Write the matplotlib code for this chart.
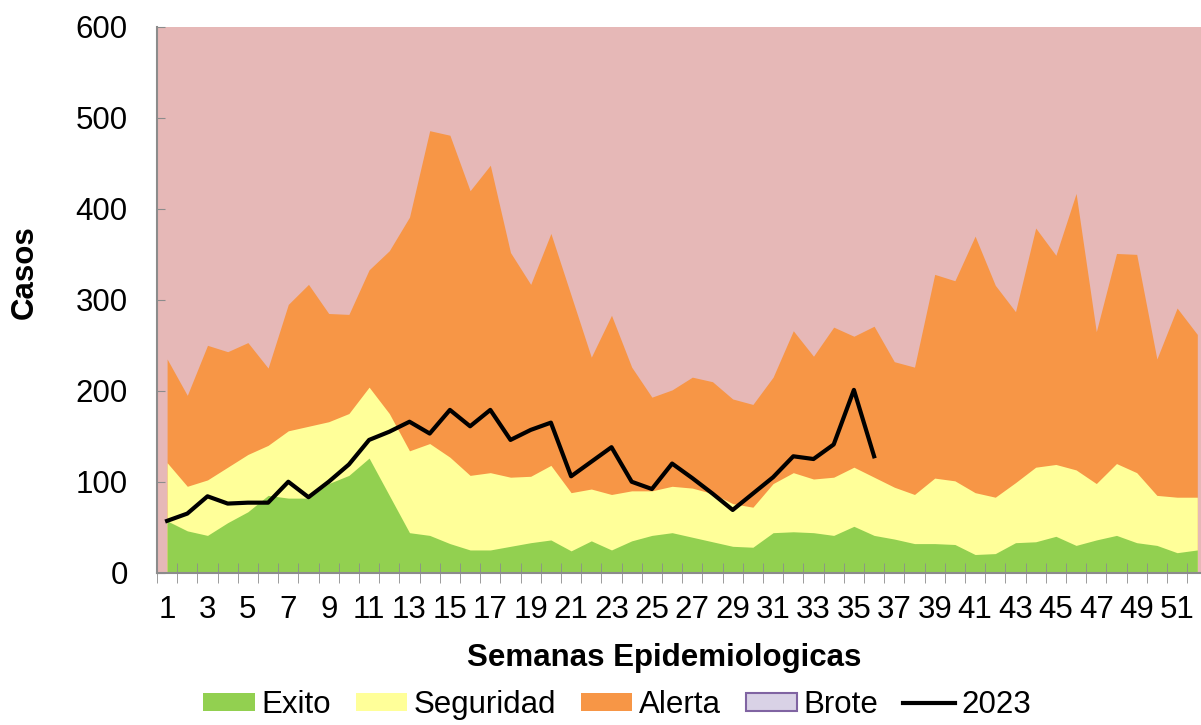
import matplotlib
matplotlib.use("Agg")
import matplotlib.pyplot as plt
from matplotlib.patches import Patch
from matplotlib.lines import Line2D

plt.rcParams['font.family'] = ['Liberation Sans', 'DejaVu Sans']

# semanas epidemiologicas
semanas = list(range(1, 53))

# limites superiores de cada zona (canal endemico)
exito = [57, 46, 41, 55, 67, 85, 82, 82, 98, 107,
         126, 85, 44, 41, 32, 25, 25, 29, 33, 36,
         24, 35, 25, 35, 41, 44, 39, 34, 29, 28,
         44, 45, 44, 41, 51, 41, 37, 32, 32, 31,
         20, 21, 33, 34, 40, 30, 36, 41, 33, 30,
         22, 25]
seguridad = [121, 95, 102, 116, 130, 140, 156, 161, 166, 175,
             204, 175, 134, 142, 127, 107, 110, 105, 106, 118,
             88, 92, 86, 90, 90, 95, 93, 87, 76, 72,
             98, 110, 103, 105, 116, 105, 94, 86, 104, 101,
             88, 83, 99, 116, 119, 113, 98, 120, 110, 85,
             83, 83]
alerta = [235, 195, 250, 243, 253, 225, 295, 317, 285, 284,
          333, 354, 391, 486, 481, 420, 448, 352, 317, 373,
          305, 237, 283, 226, 193, 201, 215, 210, 191, 185,
          215, 266, 238, 270, 260, 271, 232, 226, 328, 321,
          370, 316, 287, 379, 349, 417, 265, 351, 350, 235,
          291, 262]

# casos 2023 (hasta semana 36)
casos_2023 = [57, 65, 84, 76, 77, 77, 100, 83, 100, 119,
              146, 155, 166, 153, 179, 161, 179, 146, 157, 165,
              106, 122, 138, 100, 92, 120, 104, 87, 69, 87,
              105, 128, 125, 141, 201, 128]

verde = '#92D050'
amarillo = '#FFFF99'
naranja = '#F79646'
rosa = '#E6B8B7'
gris = '#8C8C8C'

W, H = 1201, 725
fig = plt.figure(figsize=(W / 100, H / 100), dpi=100)
ax = fig.add_axes([157 / W, 1 - 572.7 / H, 1050.4 / W, 545.7 / H])
ax.set_facecolor(rosa)

ax.fill_between(semanas, alerta, 0, color=naranja, lw=0)
ax.fill_between(semanas, seguridad, 0, color=amarillo, lw=0)
ax.fill_between(semanas, exito, 0, color=verde, lw=0)
ax.plot(range(1, len(casos_2023) + 1), casos_2023, color='black', lw=3)

ax.set_xlim(0.5, 52.5)
ax.set_ylim(0, 600)
ax.set_yticks(range(0, 601, 100))
ax.set_xticks(range(1, 52, 2))
ax.set_xticks([k + 0.5 for k in range(0, 53)], minor=True)

ax.tick_params(axis='y', direction='in', length=6, color=gris, labelsize=22.5, pad=21)
ax.tick_params(axis='x', which='major', length=0, labelsize=22.5, pad=16)
ax.tick_params(axis='x', which='minor', direction='inout', length=14, color=gris)

for s in ['top', 'right']:
    ax.spines[s].set_visible(False)
for s in ['left', 'bottom']:
    ax.spines[s].set_color(gris)
    ax.spines[s].set_linewidth(1.5)

fig.text(664 / W, 1 - 658 / H, 'Semanas Epidemiologicas', ha='center', va='center',
         fontsize=22.5, fontweight='bold')
fig.text(25 / W, 1 - 272 / H, 'Casos', ha='center', va='center', rotation=90,
         fontsize=22.5, fontweight='bold')

handles = [Patch(facecolor=verde, label='Exito'),
           Patch(facecolor=amarillo, label='Seguridad'),
           Patch(facecolor=naranja, label='Alerta'),
           Patch(facecolor='#D9D2E6', edgecolor='#8064A2', lw=1.5, label='Brote'),
           Line2D([], [], color='black', lw=3, label='2023')]
fig.legend(handles=handles, loc='center', bbox_to_anchor=(617 / W, 1 - 705 / H),
           ncol=5, frameon=False, fontsize=22.5, handlelength=1.65, handleheight=0.5,
           handletextpad=0.2, columnspacing=0.8, borderpad=0)

fig.savefig('out.png', dpi=100)
